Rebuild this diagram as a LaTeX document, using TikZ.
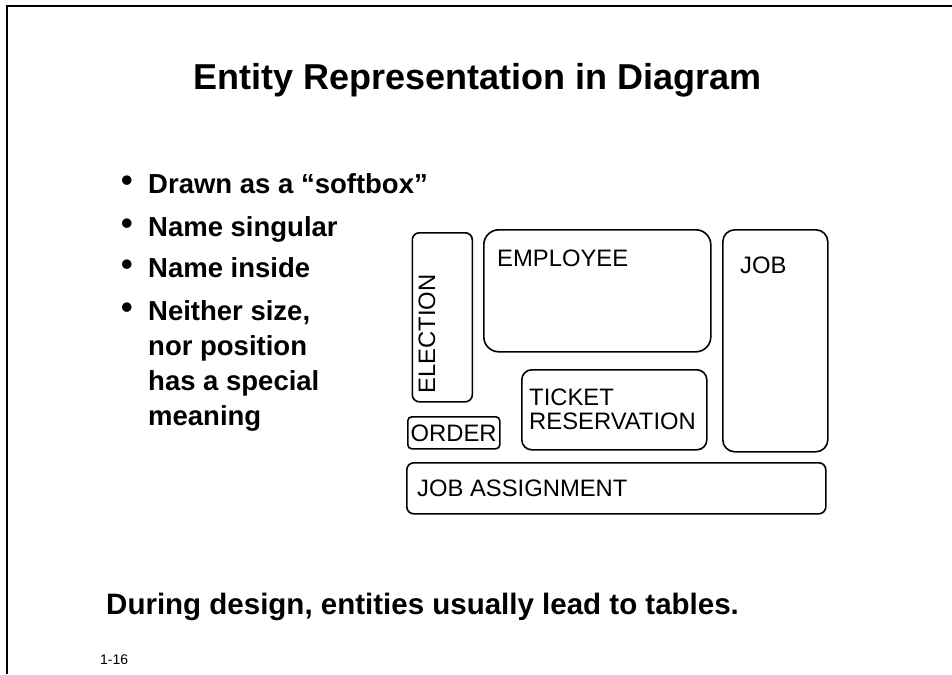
\documentclass[tikz,border=0pt]{standalone}
\usepackage{fontspec}
\setmainfont{Liberation Sans}
\begin{document}
\begin{tikzpicture}[x=1pt,y=-1pt,
  softbox/.style={draw,line width=1.6pt,inner sep=0pt,anchor=north west},
  boxlabel/.style={anchor=base west,inner sep=0pt,font=\fontsize{23.8}{24}\selectfont},
  bullettext/.style={anchor=base west,inner sep=0pt,font=\fontsize{27.5}{30}\selectfont\bfseries},
  bulletdot/.style={anchor=base,inner sep=0pt,font=\fontsize{33}{30}\selectfont\bfseries}]
\useasboundingbox (0,0) rectangle (952,674);
% frame
\coordinate (fbl) at (7,674);
\coordinate (ftl) at (7,6);
\coordinate (ftr) at (952,6);
\draw[line width=2.4pt] (fbl) -- (ftl) -- (ftr);
% title
\node[anchor=base west,inner sep=0pt,font=\fontsize{36}{40}\selectfont\bfseries] (title) at (193,90) {Entity Representation in Diagram};
% bullets
\node[bulletdot] (b1) at (127,191) {•};
\node[bullettext] (t1) at (148,193) {Drawn as a “softbox”};
\node[bulletdot] (b2) at (127,234) {•};
\node[bullettext] (t2) at (148,236) {Name singular};
\node[bulletdot] (b3) at (127,275) {•};
\node[bullettext] (t3) at (148,277) {Name inside};
\node[bulletdot] (b4) at (127,318) {•};
\node[bullettext] (t4) at (148,320) {Neither size,};
\node[bullettext] (t5) at (148,355) {nor position};
\node[bullettext] (t6) at (148,390) {has a special};
\node[bullettext] (t7) at (148,425) {meaning};
% boxes
\node[softbox,rounded corners=7pt,minimum width=60pt,minimum height=169pt] (election) at (411.5,232) {};
\node[softbox,rounded corners=15pt,minimum width=227pt,minimum height=122pt] (employee) at (483,229) {};
\node[softbox,rounded corners=10pt,minimum width=185pt,minimum height=80pt] (ticket) at (521,369) {};
\node[softbox,rounded corners=4pt,minimum width=92pt,minimum height=32pt] (order) at (407,416) {};
\node[softbox,rounded corners=12pt,minimum width=105pt,minimum height=222pt] (job) at (722,229) {};
\node[softbox,rounded corners=7pt,minimum width=419pt,minimum height=51pt] (jobassign) at (406,462) {};
% box labels
\node[boxlabel,rotate=90] (lelection) at ([shift={(23.5,-9)}]election.south west) {ELECTION};
\node[boxlabel] (lemployee) at ([shift={(14,37)}]employee.north west) {EMPLOYEE};
\node[boxlabel] (lticket) at ([shift={(8,36)}]ticket.north west) {TICKET};
\node[boxlabel] (lreserv) at ([shift={(8,60)}]ticket.north west) {RESERVATION};
\node[boxlabel] (lorder) at ([shift={(3.5,25)}]order.north west) {ORDER};
\node[boxlabel] (ljob) at ([shift={(18,44)}]job.north west) {JOB};
\node[boxlabel] (ljobassign) at ([shift={(11,34)}]jobassign.north west) {JOB ASSIGNMENT};
% bottom text
\node[anchor=base west,inner sep=0pt,font=\fontsize{29.5}{32}\selectfont\bfseries] (bottom) at (106,614) {During design, entities usually lead to tables.};
\node[anchor=base west,inner sep=0pt,font=\fontsize{14}{15}\selectfont] (pagenum) at (100,664) {1-16};
\end{tikzpicture}
\end{document}
